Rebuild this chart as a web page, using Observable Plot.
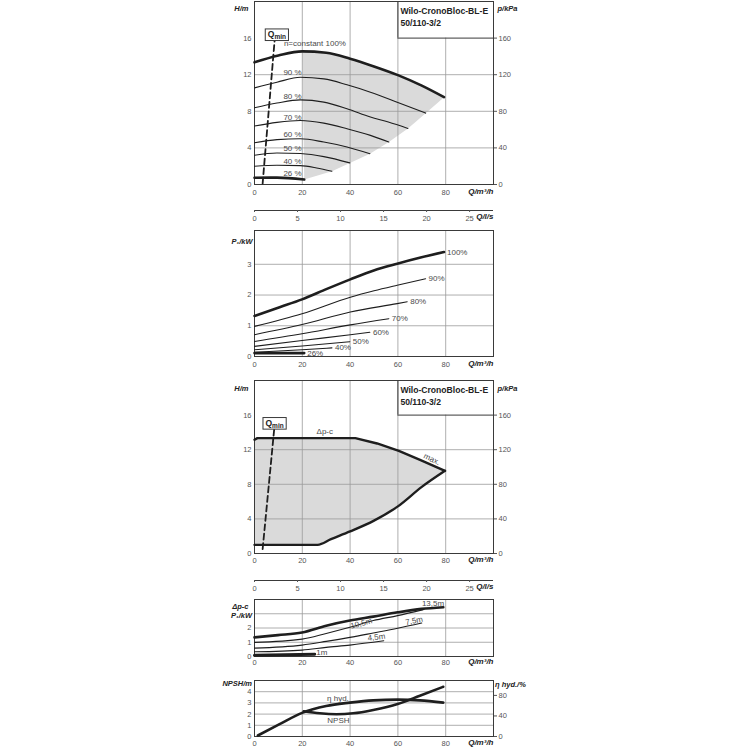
<!DOCTYPE html>
<html><head><meta charset="utf-8">
<script src="https://cdn.jsdelivr.net/npm/d3@7"></script>
<script src="https://cdn.jsdelivr.net/npm/@observablehq/plot@0.6"></script>
<style>
html,body{margin:0;padding:0;background:#fff;}
body{width:750px;height:750px;position:relative;overflow:hidden;}
</style></head><body>
<script>
// ---------- DATA ----------
const qTicks = [0, 20, 40, 60, 80];
const qGrid = [20, 40, 60];
const qGridShort = [80];
const lsTicks = [0, 5, 10, 15, 20, 25];
const hTicks = [0, 4, 8, 12, 16];
const hGrid = [4, 8, 12];
const boxQ = [60, 100];
const boxH = [16, 20];
const pTicks = [0, 1, 2, 3];
const pGrid = [1, 2, 3];
const dTicks = [0, 1, 2];
const nTicks = [0, 1, 2, 3, 4];
const nGrid = [1, 2, 3, 4];
const etaTicks = [0, 40, 80];
const etaTop = 109; // % at top of NPSH panel (NPSH 5 m)

// Panel 1: H(Q) at speeds
const hQ100 = [0, 10, 20, 30, 40, 50, 60, 70, 79.3];
const hH100 = [13.35, 14.1, 14.55, 14.4, 13.75, 12.9, 11.95, 10.8, 9.54];
const hQ90 = [0, 9.4, 19.2, 29, 38.7, 48.5, 59.7, 71.6];
const hH90 = [10.56, 11.18, 11.72, 11.54, 10.9, 10.09, 9.0, 7.8];
const hQ80 = [0, 9.4, 19.2, 29, 38.7, 48.5, 56, 64.2];
const hH80 = [8.38, 8.9, 9.25, 9.0, 8.27, 7.37, 6.82, 6.13];
const hQ70 = [0, 9.4, 19.2, 29, 38.7, 48.5, 56.2];
const hH70 = [6.39, 6.79, 7.0, 6.71, 6.1, 5.37, 4.64];
const hQ60 = [0, 9.4, 19.2, 29, 38.7, 48.3];
const hH60 = [4.57, 4.9, 5.0, 4.64, 4.1, 3.37];
const hQ50 = [0, 9.4, 19.2, 29, 39.9];
const hH50 = [3.19, 3.45, 3.38, 3.05, 2.36];
const hQ40 = [0, 9.4, 19.2, 26, 32.4];
const hH40 = [2.0, 2.1, 2.06, 1.81, 1.45];
const hQ26 = [0, 9.4, 20.8];
const hH26 = [0.73, 0.75, 0.54];
const h1Labels = ["90 %", "80 %", "70 %", "60 %", "50 %", "40 %", "26 %"];
const h1LabelQ = [15.9, 15.9, 15.9, 15.9, 15.9, 15.9, 15.9];
const h1LabelH = [12.22, 9.67, 7.37, 5.45, 3.93, 2.54, 1.26];
const nConstLabel = {text: "n=constant 100%", q: 12.3, h: 15.4};
const qmin1Q = [3.4, 8.4], qmin1H = [0.1, 15.7];
const qmin1Box = {q: 9.35, h: 16.37};

// Panel 2: P1(Q) at speeds
const pQ100 = [0, 10.8, 19.9, 30.3, 40.1, 49.9, 59.7, 69.5, 79.3];
const pP100 = [1.32, 1.61, 1.86, 2.2, 2.51, 2.8, 3.02, 3.22, 3.4];
const pQ90 = [0, 19.9, 40.1, 50, 59.7, 71.6];
const pP90 = [0.98, 1.39, 1.93, 2.14, 2.32, 2.53];
const pQ80 = [0, 19.9, 40.1, 59.7, 63.9];
const pP80 = [0.71, 1.04, 1.45, 1.72, 1.78];
const pQ70 = [0, 19.9, 40.1, 56.2];
const pP70 = [0.49, 0.74, 1.03, 1.23];
const pQ60 = [0, 19.9, 40.1, 48.3];
const pP60 = [0.33, 0.52, 0.71, 0.79];
const pQ50 = [0, 19.9, 39.9];
const pP50 = [0.22, 0.34, 0.48];
const pQ40 = [0, 19.9, 32.4];
const pP40 = [0.14, 0.22, 0.28];
const pQ26 = [0, 20.8];
const pP26 = [0.11, 0.11];
const pLabels = ["100%", "90%", "80%", "70%", "60%", "50%", "40%", "26%"];

// Panel 3: Δp-c envelope
const dpTopQ = [0, 1.2, 42.2, 51.3, 60.4, 69.5, 79.7];
const dpTopH = [13.15, 13.34, 13.34, 12.72, 11.87, 10.8, 9.56];
const dpBotQ = [0, 26.4, 32, 40, 50, 60, 70, 79.7];
const dpBotH = [1.0, 1.0, 1.65, 2.55, 3.8, 5.45, 7.7, 9.56];
const dpLabel = {text: "Δp-c", q: 29.4, h: 14.07};
const maxLabel = {text: "max.", q: 74.2, h: 10.9, rotate: 25};
const qmin3Q = [3.4, 8.25], qmin3H = [0.5, 14.4];
const qmin3Box = {q: 8.4, h: 15.05};

// Panel 4: P1(Q) at Δp-c setpoints
const dQ135 = [0, 9.8, 19.9, 30, 39.9, 49.7, 59.9, 69.9, 79];
const dP135 = [1.34, 1.5, 1.69, 2.16, 2.52, 2.8, 3.1, 3.34, 3.46];
const dQ105 = [0, 19.9, 30, 39.9, 49.7, 59.9, 70.6];
const dP105 = [0.99, 1.22, 1.62, 2.05, 2.52, 2.87, 3.29];
const dQ75 = [0, 19.9, 30, 39.9, 49.7, 59.9, 70];
const dP75 = [0.59, 0.8, 1.06, 1.34, 1.65, 1.98, 2.35];
const dQ45 = [0, 19.9, 30, 39.9, 54.1];
const dP45 = [0.33, 0.45, 0.64, 0.8, 1.1];
const dQ1 = [0, 25.2];
const dP1 = [0.08, 0.16];
const dLabels = ["13,5m", "10,5m", "7,5m", "4,5m", "1m"];
const dLabelQ = [74.7, 44.7, 66.8, 51, 28.2];
const dLabelP = [3.7, 2.32, 2.5, 1.36, 0.3];
const dLabelRot = [0, -15, -12, -7, 0];

// Panel 5: NPSH and efficiency
const etaQ = [1.4, 10.5, 19.9, 30, 39.9, 49.7, 59.9, 69.2, 79];
const etaV = [1.9, 24, 46, 59.5, 66, 70.4, 71.7, 70.4, 66];
const npshQ = [20.6, 27.3, 34.3, 41.3, 49.7, 59.9, 69.2, 79];
const npshV = [2.25, 2.07, 1.99, 2.07, 2.37, 2.9, 3.64, 4.44];
const etaLabel = {text: "η hyd.", q: 34.9, v: 3.44};
const npshLabel = {text: "NPSH", q: 35.1, v: 1.42};

// ---------- HELPERS ----------
const FONT = '"Liberation Sans", Arial, sans-serif';
const INK = "#1e1e1e", GRID = "#9a9a9a", FRAME = "#3a3a3a", TXT = "#4a4a4a", FILL = "#dadada";
const L = 254, R = 257;
const pts = (qs, vs, f = v => v) => qs.map((q, i) => ({q, v: f(vs[i])}));
const thin = (d) => Plot.line(d, {x: "q", y: "v", curve: "monotone-x", stroke: INK, strokeWidth: 1.1});
const thick = (d) => Plot.line(d, {x: "q", y: "v", curve: "monotone-x", stroke: INK, strokeWidth: 2.6});
const axLab = (t, o) => Plot.text([t], {fontWeight: "bold", fontStyle: "italic", fill: "#222", fontSize: 7.5, ...o});
const intFmt = d => String(d);
const xAxis = (pad) => Plot.axisX({ticks: qTicks, tickFormat: intFmt, tickSize: 0, tickPadding: pad, label: null, color: "#555"});
const yAxisL = (ticks) => Plot.axisY({anchor: "left", ticks, tickFormat: intFmt, tickSize: 0, tickPadding: 3, label: null, color: "#555"});
const yAxisR = (ticks, fmt) => Plot.axisY({anchor: "right", ticks, tickFormat: fmt, tickSize: 3, tickPadding: 2, label: null, color: "#555"});
const NS = "http://www.w3.org/2000/svg";

function fixQmin(svg) {
  svg.querySelectorAll("text").forEach(t => {
    if (t.textContent === "Qmin") {
      t.textContent = "Q";
      const ts = document.createElementNS(NS, "tspan");
      ts.setAttribute("font-size", "6.5");
      ts.setAttribute("dy", "1.6");
      ts.textContent = "min";
      t.appendChild(ts);
      const b = t.getBBox();
      const r = document.createElementNS(NS, "rect");
      r.setAttribute("x", b.x - 2.5);
      r.setAttribute("y", b.y - 0.5);
      r.setAttribute("width", b.width + 5);
      r.setAttribute("height", b.height + 1);
      r.setAttribute("fill", "#fff");
      r.setAttribute("stroke", FRAME);
      r.setAttribute("stroke-width", "1");
      if (t.getAttribute("transform")) r.setAttribute("transform", t.getAttribute("transform"));
      t.parentNode.insertBefore(r, t);
    }
  });
}

function mkPanel(top, height, mt, mb, yDomain, marks, xDomain = [0, 100]) {
  const svg = Plot.plot({
    width: 750, height, marginLeft: L, marginRight: R, marginTop: mt, marginBottom: mb,
    x: {domain: xDomain, axis: null}, y: {domain: yDomain, axis: null},
    style: {fontFamily: FONT, fontSize: "7.5px", background: "transparent", color: TXT, overflow: "visible"},
    marks
  });
  svg.style.position = "absolute";
  svg.style.left = "0px";
  svg.style.top = top + "px";
  document.body.appendChild(svg);
  fixQmin(svg);
  return svg;
}

function lsAxis(top) {
  mkPanel(top, 30, 5, 20, [0, 1], [
    Plot.ruleY([0], {stroke: FRAME, strokeWidth: 1}),
    Plot.axisX({ticks: lsTicks, tickFormat: intFmt, tickSize: 2, tickPadding: 3, label: null, color: "#555"}),
    axLab("Q/l/s", {frameAnchor: "bottom-right", dy: 8.7, textAnchor: "end", fontSize: 8})
  ], [0, 100 / 3.6]);
}

function hqGrid() {
  return [
    Plot.ruleX(qGrid, {stroke: GRID, strokeWidth: 0.8}),
    Plot.ruleX(qGridShort, {y1: 0, y2: boxH[0], stroke: GRID, strokeWidth: 0.8}),
    Plot.ruleY(hGrid, {stroke: GRID, strokeWidth: 0.8}),
    Plot.ruleX([boxQ[0]], {y1: boxH[0], y2: boxH[1], stroke: FRAME, strokeWidth: 1}),
    Plot.ruleY([boxH[0]], {x1: boxQ[0], x2: boxQ[1], stroke: FRAME, strokeWidth: 1}),
    Plot.frame({stroke: FRAME, strokeWidth: 1}),
    Plot.text(["Wilo-CronoBloc-BL-E"], {x: boxQ[0], frameAnchor: "top", dx: 2.5, dy: 6.8, textAnchor: "start", fontWeight: "bold", fontSize: 8.6, fill: "#222"}),
    Plot.text(["50/110-3/2"], {x: boxQ[0], frameAnchor: "top", dx: 2.5, dy: 18.2, textAnchor: "start", fontWeight: "bold", fontSize: 8.6, fill: "#222"})
  ];
}

// ---------- PANEL 1 ----------
{
  const c100 = pts(hQ100, hH100);
  const ends = [
    [hQ90, hH90], [hQ80, hH80], [hQ70, hH70], [hQ60, hH60], [hQ50, hH50], [hQ40, hH40], [hQ26, hH26]
  ].map(([q, h]) => ({q: q[q.length - 1], v: h[h.length - 1]}));
  const poly = c100.filter(d => d.q >= 20).concat(ends);
  mkPanel(0, 228, 1, 44, [0, 20], [
    Plot.line(poly, {x: "q", y: "v", fill: FILL, stroke: "none"}),
    ...hqGrid(),
    thick(c100),
    thin(pts(hQ90, hH90)), thin(pts(hQ80, hH80)), thin(pts(hQ70, hH70)),
    thin(pts(hQ60, hH60)), thin(pts(hQ50, hH50)), thin(pts(hQ40, hH40)),
    thick(pts(hQ26, hH26)),
    Plot.line(pts(qmin1Q, qmin1H), {x: "q", y: "v", stroke: INK, strokeWidth: 1.8, strokeDasharray: "6,3.5"}),
    Plot.text(h1Labels, {x: (d, i) => h1LabelQ[i], y: (d, i) => h1LabelH[i], fill: TXT, fontSize: 8}),
    Plot.text([nConstLabel], {x: "q", y: "h", text: "text", textAnchor: "start", fill: TXT, fontSize: 8}),
    Plot.text(["Qmin"], {x: qmin1Box.q, y: qmin1Box.h, fontWeight: "bold", fontSize: 8.5, fill: "#222"}),
    xAxis(5), yAxisL(hTicks), yAxisR(hTicks, d => String(d * 10)),
    axLab("H/m", {frameAnchor: "top-left", dx: -6, dy: 4, textAnchor: "end"}),
    axLab("p/kPa", {frameAnchor: "top-right", dx: 4, dy: 4, textAnchor: "start"}),
    axLab("Q/m³/h", {frameAnchor: "bottom-right", dy: 9.5, textAnchor: "end", fontSize: 8})
  ]);
  lsAxis(200);
}

// ---------- PANEL 2 ----------
{
  const curves = [[pQ100, pP100], [pQ90, pP90], [pQ80, pP80], [pQ70, pP70], [pQ60, pP60], [pQ50, pP50], [pQ40, pP40], [pQ26, pP26]];
  const ends = curves.map(([q, p], i) => ({q: q[q.length - 1], v: p[p.length - 1], t: pLabels[i]}));
  mkPanel(224, 150, 6, 18, [0, 4.1], [
    Plot.ruleX(qTicks.slice(1), {stroke: GRID, strokeWidth: 0.8}),
    Plot.ruleY(pGrid, {stroke: GRID, strokeWidth: 0.8}),
    Plot.frame({stroke: FRAME, strokeWidth: 1}),
    thick(pts(pQ100, pP100)),
    ...curves.slice(1, 7).map(([q, p]) => thin(pts(q, p))),
    thick(pts(pQ26, pP26)),
    Plot.text(ends, {x: "q", y: "v", text: "t", dx: 3, textAnchor: "start", fill: TXT, fontSize: 8}),
    xAxis(5), yAxisL(pTicks),
    axLab("P₁/kW", {frameAnchor: "top-left", dx: -2, dy: 7.7, textAnchor: "end"}),
    axLab("Q/m³/h", {frameAnchor: "bottom-right", dy: 9, textAnchor: "end", fontSize: 8})
  ]);
}

// ---------- PANEL 3 ----------
{
  const top = pts(dpTopQ, dpTopH);
  const bot = pts(dpBotQ, dpBotH);
  const poly = top.concat(bot.slice().reverse());
  mkPanel(372, 224, 8, 43, [0, 20], [
    Plot.line(poly, {x: "q", y: "v", fill: FILL, stroke: "none"}),
    ...hqGrid(),
    Plot.line(top, {x: "q", y: "v", stroke: INK, strokeWidth: 2.4}),
    Plot.line(bot, {x: "q", y: "v", curve: "monotone-x", stroke: INK, strokeWidth: 2.4}),
    Plot.line(pts(qmin3Q, qmin3H), {x: "q", y: "v", stroke: INK, strokeWidth: 1.8, strokeDasharray: "6,3.5"}),
    Plot.text([dpLabel], {x: "q", y: "h", text: "text", fill: TXT, fontSize: 8}),
    Plot.text([maxLabel], {x: "q", y: "h", text: "text", rotate: maxLabel.rotate, fill: TXT, fontSize: 8}),
    Plot.text(["Qmin"], {x: qmin3Box.q, y: qmin3Box.h, fontWeight: "bold", fontSize: 8.5, fill: "#222"}),
    xAxis(4), yAxisL(hTicks), yAxisR(hTicks, d => String(d * 10)),
    axLab("H/m", {frameAnchor: "top-left", dx: -6, dy: 5, textAnchor: "end"}),
    axLab("p/kPa", {frameAnchor: "top-right", dx: 4, dy: 5, textAnchor: "start"}),
    axLab("Q/m³/h", {frameAnchor: "bottom-right", dy: 8.5, textAnchor: "end", fontSize: 8})
  ]);
  lsAxis(570);
}

// ---------- PANEL 4 ----------
{
  const labs = dLabels.map((t, i) => ({t, q: dLabelQ[i], v: dLabelP[i], r: dLabelRot[i]}));
  mkPanel(594, 76, 5, 14, [0, 4], [
    Plot.ruleX(qTicks.slice(1), {stroke: GRID, strokeWidth: 0.8}),
    Plot.ruleY(pGrid, {stroke: GRID, strokeWidth: 0.8}),
    Plot.frame({stroke: FRAME, strokeWidth: 1}),
    thick(pts(dQ135, dP135)),
    thin(pts(dQ105, dP105)), thin(pts(dQ75, dP75)), thin(pts(dQ45, dP45)),
    Plot.line(pts(dQ1, dP1), {x: "q", y: "v", stroke: INK, strokeWidth: 3}),
    ...labs.map(d => Plot.text([d], {x: "q", y: "v", text: "t", rotate: d.r, fill: TXT, fontSize: 8})),
    xAxis(3), yAxisL(dTicks),
    axLab("Δp-c", {frameAnchor: "top-left", dx: -6, dy: 4.3, textAnchor: "end"}),
    axLab("P₁/kW", {frameAnchor: "top-left", dx: -2.5, dy: 13.3, textAnchor: "end"}),
    axLab("Q/m³/h", {frameAnchor: "bottom-right", dy: 7, textAnchor: "end", fontSize: 8})
  ]);
}

// ---------- PANEL 5 ----------
{
  const k = 5 / etaTop;
  mkPanel(672, 78, 8, 14, [0, 5], [
    Plot.ruleX(qTicks.slice(1), {stroke: GRID, strokeWidth: 0.8}),
    Plot.ruleY(nGrid, {stroke: GRID, strokeWidth: 0.8}),
    Plot.frame({stroke: FRAME, strokeWidth: 1}),
    thick(pts(etaQ, etaV, v => v * k)),
    thick(pts(npshQ, npshV)),
    Plot.text([etaLabel, npshLabel], {x: "q", y: "v", text: "text", fill: TXT, fontSize: 8}),
    xAxis(4), yAxisL(nTicks),
    yAxisR(etaTicks.map(v => v * k), d => String(Math.round(d / k))),
    axLab("NPSH/m", {frameAnchor: "top-left", dx: -2.5, dy: 0.5, textAnchor: "end"}),
    axLab("η hyd./%", {frameAnchor: "top-right", dx: 1.5, dy: 1.5, textAnchor: "start"}),
    axLab("Q/m³/h", {frameAnchor: "bottom-right", dy: 8, textAnchor: "end", fontSize: 8})
  ]);
}
</script>
</body></html>
